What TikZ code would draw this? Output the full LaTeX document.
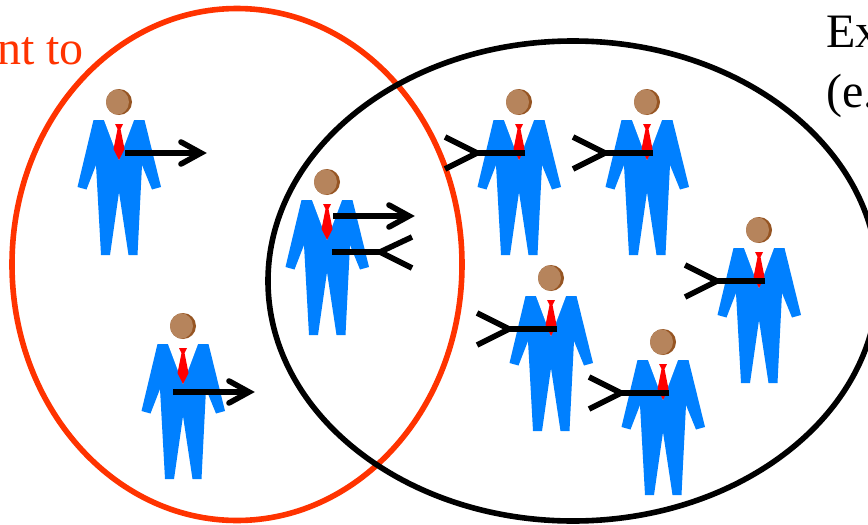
\documentclass[tikz,border=0pt]{standalone}
\usepackage{fontspec}
\usetikzlibrary{shapes.geometric}
\setmainfont{Liberation Serif}
\definecolor{suit}{RGB}{0,128,255}
\definecolor{skin}{RGB}{182,132,92}
\definecolor{skindark}{RGB}{150,85,35}
\definecolor{ringred}{RGB}{255,51,0}
\tikzset{
  x=1pt,y=-1pt,
  ring/.style={ellipse,line width=5.6pt,draw=#1,inner sep=0pt,outer sep=0pt},
  link/.style={line width=5.6pt,draw=black},
  label/.style={inner sep=0pt,anchor=base west,font=\fontsize{48}{48}\selectfont},
  person/.pic={
    \fill[skindark] (0,0) circle (13);
    \begin{scope}
      \clip (0,0) circle (13);
      \fill[skin] (-3,0) circle (13);
    \end{scope}
    \fill[suit] (-25.5,18) -- (25.5,18) -- (42,85) -- (33,87.5) -- (23,63) -- (18.5,153) -- (9.5,153) -- (0,90) -- (-9,153) -- (-18,153) -- (-23,63) -- (-32.5,87.5) -- (-41.5,85) -- cycle;
    \fill[white] (-15,18) -- (15,18) -- (0,58) -- cycle;
    \fill[red] (-4,22) -- (4,22) -- (1.5,27) -- (5.5,47) -- (0,58) -- (-5.5,47) -- (-1.5,27) -- cycle;
  },
  outarrow/.pic={
    \coordinate (-s) at (6,51);
    \coordinate (-t) at (82,51);
    \coordinate (-u) at (62,40);
    \coordinate (-v) at (62,62);
    \draw[link] (-s) -- (-t);
    \draw[link,line cap=round] (-u) -- (-t) -- (-v);
  },
  inarrow/.pic={
    \coordinate (-s) at (6,51);
    \coordinate (-t) at (-42,51);
    \coordinate (-u) at (-74,35);
    \coordinate (-v) at (-74,67);
    \draw[link] (-s) -- (-t);
    \draw[link] (-u) -- (-t) -- (-v);
  }
}
\begin{document}
\begin{tikzpicture}
\useasboundingbox (0,0) rectangle (868,525);
\clip (0,0) rectangle (868,525);
\fill[white] (0,0) rectangle (868,525);
\node[ring=ringred,minimum width=450pt,minimum height=512pt] (redc) at (237,264.5) {};
\node[ring=black,minimum width=610pt,minimum height=480pt] (blackc) at (573,281) {};
\node[label,text=ringred] (lbl) at (-3,64) {nt to};
\node[label] (ex) at (826,47) {Ex};
\node[label] (eg) at (826,107) {(e.};
\foreach \n/\px/\py in {a/119/102,b/183/326,c/327/182,d/519/102,e/647/102,f/759/230,g/551/278,h/663/342}
  \pic (\n) at (\px,\py) {person};
\pic (oa) at (119,102) {outarrow};
\pic (ob) at (167,341) {outarrow};
\pic (oc) at (327,165) {outarrow};
\coordinate (cs) at (332,252);
\coordinate (cj) at (380,252);
\coordinate (cu) at (412,237);
\coordinate (cv) at (412,268);
\draw[link] (cs) -- (cj);
\draw[link] (cu) -- (cj) -- (cv);
\pic (id) at (519,102) {inarrow};
\pic (ie) at (647,102) {inarrow};
\pic (if) at (759,230) {inarrow};
\pic (ig) at (551,278) {inarrow};
\pic (ih) at (663,342) {inarrow};
\end{tikzpicture}
\end{document}
